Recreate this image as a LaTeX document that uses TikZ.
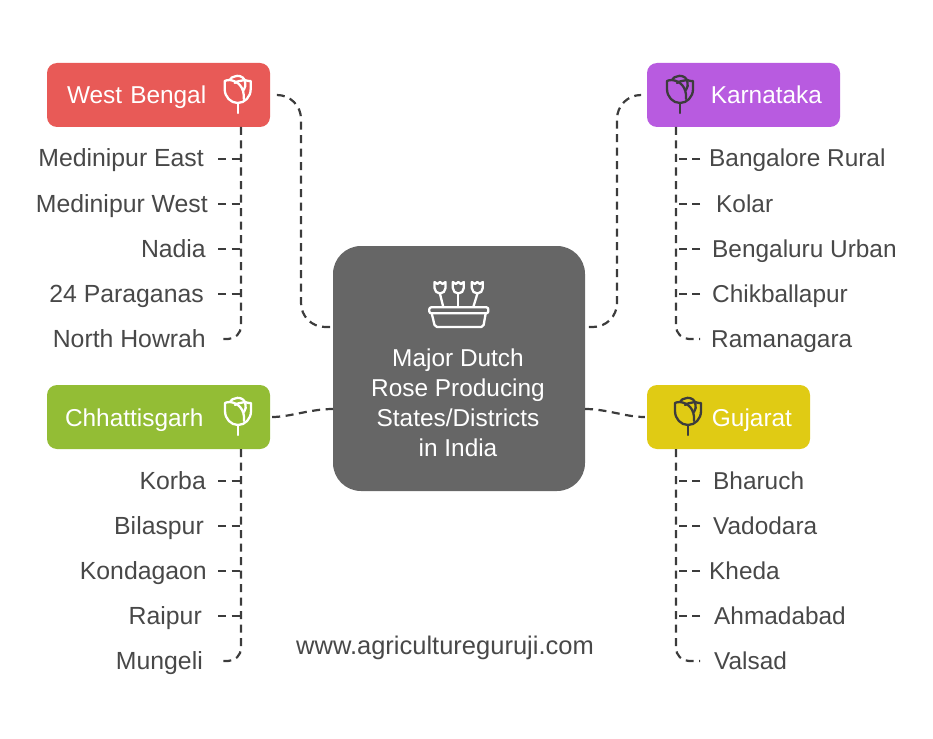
\documentclass[tikz,border=0pt]{standalone}
\usepackage{fontspec}
\setmainfont{Liberation Sans}
\usepackage{xcolor}
\usepackage{tikz}
\usetikzlibrary{calc}
\definecolor{wbred}{HTML}{E85A57}
\definecolor{kapurple}{HTML}{B85BE0}
\definecolor{cggreen}{HTML}{93BD35}
\definecolor{gjyellow}{HTML}{E0CB14}
\definecolor{hubgrey}{HTML}{666666}
\definecolor{inkgrey}{HTML}{484848}
\definecolor{wiregrey}{HTML}{3C3C3C}
\tikzset{statebox/.style={rounded corners=10pt,minimum height=64pt,inner xsep=18pt,inner ysep=0pt,text=white,font=\fontsize{24.4}{28}\selectfont,text height=20pt,text depth=2pt}}
\tikzset{leafl/.style={anchor=east,inner ysep=0pt,text=inkgrey,font=\fontsize{24.8}{28}\selectfont,text height=19pt,text depth=3pt}}
\tikzset{leafr/.style={leafl,anchor=west,font=\fontsize{24.4}{28}\selectfont}}
\tikzset{wire/.style={draw=wiregrey,line width=2.2pt,dash pattern=on 8pt off 5.5pt}}
\tikzset{iconline/.style={line width=2.3pt,line join=round,line cap=round}}
\tikzset{rose/.pic={
    \draw[iconline,pic actions] (-13,-14) -- (-13,-6) .. controls (-13,2) and (-7,8) .. (0,8) .. controls (7,8) and (13,2) .. (13,-6) -- (13,-14) .. controls (11,-14) and (9,-14) .. (7,-15) .. controls (5,-19) and (0,-20) .. (-3,-18.5) .. controls (-5,-18.5) and (-7,-17) .. (-8,-15) .. controls (-10,-15) and (-12,-14.5) .. (-13,-14) -- cycle;
    \draw[iconline,pic actions] (-8,-15) .. controls (0,-14) and (7,-8) .. (6,4);
    \draw[iconline,pic actions] (-3,-12) .. controls (-1,-14) and (3,-14) .. (7,-15) .. controls (8,-10) and (8,-7) .. (6,-5);
    \draw[iconline,pic actions] (0,8) -- (0,18);
}}
\tikzset{tulip/.pic={
    \draw[iconline,pic actions] (-5.5,-6) -- (-5.5,0) .. controls (-5.5,3) and (-3,5.5) .. (0,5.5) .. controls (3,5.5) and (5.5,3) .. (5.5,0) -- (5.5,-6) -- (2.5,-4) -- (0,-6) -- (-2.5,-4) -- cycle;
}}

\begin{document}
\begin{tikzpicture}[x=1pt,y=-1pt]
\useasboundingbox (0,0) rectangle (933,738);
    % centre
    \node[rounded corners=28pt,fill=hubgrey,minimum width=252pt,minimum height=245pt] (hub) at (459,368.5) {};
    \node[text=white,align=center,font=\fontsize{24.4}{30}\selectfont] (title) at (458,403) {Major Dutch\\Rose Producing\\States/Districts\\in India};
    % states
    \node[statebox,fill=wbred,text width=183pt,inner xsep=20pt,align=left] (WB) at (158.5,95) {West Bengal};
    \node[statebox,fill=kapurple,text width=157pt,align=right] (KA) at (743.5,95) {Karnataka};
    \node[statebox,fill=cggreen,text width=187pt,align=left] (CG) at (158.5,417) {Chhattisgarh};
    \node[statebox,fill=gjyellow,text width=127pt,align=right] (GJ) at (728.5,417) {Gujarat};
    % bus lines
    \coordinate (WBbus) at (241,127);
    \coordinate (KAbus) at (676,127);
    \coordinate (CGbus) at (241,449);
    \coordinate (GJbus) at (676,449);
    % hub ends
    \coordinate (hubWB) at (333,327);
    \coordinate (hubKA) at (585,327);
    \coordinate (hubCG) at (333,409);
    \coordinate (hubGJ) at (585,409);
    % districts left
    \node[leafl,inner xsep=14pt] (ME) at (218,159) {Medinipur East};
    \node[leafl,inner xsep=10pt] (MW) at (218,204) {Medinipur West};
    \node[leafl,inner xsep=12pt] (NA) at (218,249) {Nadia};
    \node[leafl,inner xsep=14pt] (PA) at (218,294) {24 Paraganas};
    \node[leafl,inner xsep=12pt] (NH) at (218,339) {North Howrah};
    \node[leafl,inner xsep=12pt] (KO) at (218,481) {Korba};
    \node[leafl,inner xsep=14pt] (BI) at (218,526) {Bilaspur};
    \node[leafl,inner xsep=11pt] (KG) at (218,571) {Kondagaon};
    \node[leafl,inner xsep=16pt] (RA) at (218,616) {Raipur};
    \node[leafl,inner xsep=15pt] (MU) at (218,661) {Mungeli};
    % districts right
    \node[leafr,inner xsep=9pt] (BR) at (700,159) {Bangalore Rural};
    \node[leafr,inner xsep=16pt] (KL) at (700,204) {Kolar};
    \node[leafr,inner xsep=12pt] (BU) at (700,249) {Bengaluru Urban};
    \node[leafr,inner xsep=12pt] (CH) at (700,294) {Chikballapur};
    \node[leafr,inner xsep=11pt] (RM) at (700,339) {Ramanagara};
    \node[leafr,inner xsep=13pt] (BH) at (700,481) {Bharuch};
    \node[leafr,inner xsep=13pt] (VA) at (700,526) {Vadodara};
    \node[leafr,inner xsep=9pt] (KH) at (700,571) {Kheda};
    \node[leafr,inner xsep=14pt] (AH) at (700,616) {Ahmadabad};
    \node[leafr,inner xsep=14pt] (VL) at (700,661) {Valsad};
    \node[text=inkgrey,font=\fontsize{25.5}{28}\selectfont] (web) at (445,648) {www.agricultureguruji.com};

    % state to centre
    \draw[wire,rounded corners=24pt,shorten <=7pt] (WB.east) -| (301,327) -- (hubWB);
    \draw[wire,rounded corners=24pt,shorten <=7pt] (KA.west) -| (617,327) -- (hubKA);
    \draw[wire,shorten <=2pt] (CG.east) .. controls (290,417) and (310,409) .. (hubCG);
    \draw[wire,shorten >=2pt] (hubGJ) .. controls (607,409) and (625,417) .. (GJ.west);
    % trunks
    \draw[wire,rounded corners=13pt] (WBbus) |- (NH.east);
    \draw[wire,rounded corners=13pt] (KAbus) |- (RM.west);
    \draw[wire,rounded corners=13pt] (CGbus) |- (MU.east);
    \draw[wire,rounded corners=13pt] (GJbus) |- (VL.west);
    % branches
    \draw[wire] (ME.east) -- (ME.east -| WBbus);
    \draw[wire] (MW.east) -- (MW.east -| WBbus);
    \draw[wire] (NA.east) -- (NA.east -| WBbus);
    \draw[wire] (PA.east) -- (PA.east -| WBbus);
    \draw[wire] (KO.east) -- (KO.east -| CGbus);
    \draw[wire] (BI.east) -- (BI.east -| CGbus);
    \draw[wire] (KG.east) -- (KG.east -| CGbus);
    \draw[wire] (RA.east) -- (RA.east -| CGbus);
    \draw[wire] (BR.west) -- (BR.west -| KAbus);
    \draw[wire] (KL.west) -- (KL.west -| KAbus);
    \draw[wire] (BU.west) -- (BU.west -| KAbus);
    \draw[wire] (CH.west) -- (CH.west -| KAbus);
    \draw[wire] (BH.west) -- (BH.west -| GJbus);
    \draw[wire] (VA.west) -- (VA.west -| GJbus);
    \draw[wire] (KH.west) -- (KH.west -| GJbus);
    \draw[wire] (AH.west) -- (AH.west -| GJbus);

    % icons
    \pic[draw=white] at (237.7,95) {rose};
    \pic[draw=wiregrey] at (680,95) {rose};
    \pic[draw=white] at (238,417) {rose};
    \pic[draw=wiregrey] at (688,417) {rose};
    \pic[draw=white] at (440,288) {tulip};
    \pic[draw=white] at (458.3,288) {tulip};
    \pic[draw=white] at (477.3,288) {tulip};
    \draw[iconline,draw=white] (440,294) -- (443.3,307);
    \draw[iconline,draw=white] (458.3,294) -- (458.3,307);
    \draw[iconline,draw=white] (477.3,294) -- (473.3,307);
    \draw[iconline,draw=white,rounded corners=2pt] (429.3,307.3) rectangle (488.3,313.3);
    \draw[iconline,draw=white,rounded corners=2pt] (431.7,313.3) -- (435,327) -- (483.3,327) -- (485.7,313.3);
\end{tikzpicture}
\end{document}
